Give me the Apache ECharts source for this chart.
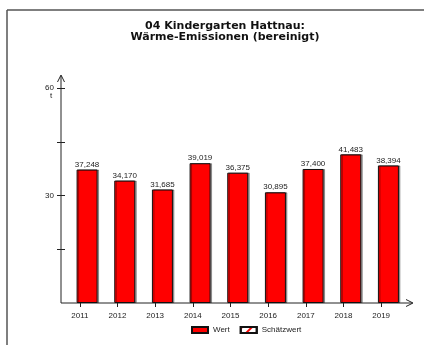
<!DOCTYPE html>
<html>
<head>
<meta charset="utf-8">
<script src="https://cdn.jsdelivr.net/npm/echarts@6/dist/echarts.min.js"></script>
<style>
  html, body { margin: 0; padding: 0; background: #fff; overflow: hidden; }
  #main { width: 424px; height: 345px; }
</style>
</head>
<body>
<div id="main"></div>
<script>
var years = ['2011', '2012', '2013', '2014', '2015', '2016', '2017', '2018', '2019'];
var wert = [37.248, 34.170, 31.685, 39.019, 36.375, 30.895, 37.400, 41.483, 38.394];
var schaetzwert = [];
var yTickLabels = ['30', '60'];
var yTicks = [15, 30, 45, 60];

var chart = echarts.init(document.getElementById('main'));
var font = 'Liberation Sans, Arial, sans-serif';

// Achsen mit Pfeil werden per graphic gezeichnet
var ox = 61, oy = 303;

chart.setOption({
  animation: false,
  textStyle: { fontFamily: font },
  title: {
    text: '04 Kindergarten Hattnau:\nWärme-Emissionen (bereinigt)',
    left: 220,
    top: 16,
    textAlign: 'center',
    textStyle: { fontSize: 11, fontWeight: 'bold', color: '#111', lineHeight: 11, fontFamily: 'DejaVu Sans, sans-serif' }
  },
  legend: {
    left: 186,
    top: 321,
    itemWidth: 16,
    itemHeight: 6,
    itemGap: 10,
    textStyle: { fontSize: 8, color: '#222', fontFamily: font },
    data: [
      { name: 'Wert', icon: 'rect' },
      { name: 'Schätzwert', icon: 'rect' }
    ]
  },
  grid: { left: ox, right: 24, top: 88, bottom: 345 - oy },
  xAxis: {
    type: 'category',
    data: years,
    axisLine: { show: false },
    axisTick: { show: true, alignWithLabel: true, length: 4, lineStyle: { color: '#222' } },
    axisLabel: { fontSize: 8, color: '#222', margin: 9 }
  },
  yAxis: [
    {
      type: 'value',
      min: 0,
      max: 60,
      interval: 15,
      axisLine: { show: false },
      axisTick: { show: true, length: 4, customValues: yTicks, lineStyle: { color: '#222' } },
      splitLine: { show: false },
      axisLabel: {
        fontSize: 8, color: '#222', margin: 7,
        formatter: function (v) { return yTickLabels.indexOf(String(v)) >= 0 ? String(v) : ''; }
      }
    },
    {
      type: 'value',
      position: 'left',
      min: 0,
      max: 60,
      interval: 15,
      axisLine: { show: false },
      axisTick: { show: true, inside: true, length: 4, customValues: yTicks, lineStyle: { color: '#222' } },
      splitLine: { show: false },
      axisLabel: { show: false }
    }
  ],
  series: [
    {
      name: 'Wert',
      type: 'bar',
      barWidth: 21,
      data: wert,
      itemStyle: {
        color: '#ff0000',
        borderColor: '#111',
        borderWidth: 1,
        shadowColor: 'rgba(0,0,0,0.35)',
        shadowOffsetX: 1.5,
        shadowOffsetY: 0
      },
      label: {
        show: true,
        position: 'top',
        distance: 1,
        fontSize: 8,
        color: '#222',
        formatter: function (p) { return p.value.toFixed(3).replace('.', ','); }
      }
    },
    {
      name: 'Schätzwert',
      type: 'bar',
      barGap: '-100%',
      data: schaetzwert,
      itemStyle: {
        color: '#ffffff',
        borderColor: '#111',
        borderWidth: 1,
        decal: { symbol: 'rect', color: '#ff0000', dashArrayX: [1, 0], dashArrayY: [2, 5], rotation: -Math.PI / 4 }
      }
    }
  ],
  graphic: [
    // Rahmen oben und links
    { type: 'line', shape: { x1: 7, y1: 10, x2: 424, y2: 10 }, style: { stroke: '#555', lineWidth: 1.5 } },
    { type: 'line', shape: { x1: 7, y1: 10, x2: 7, y2: 345 }, style: { stroke: '#555', lineWidth: 1.5 } },
    // y-Achse mit Pfeil
    { type: 'line', shape: { x1: ox, y1: oy, x2: ox, y2: 76 }, style: { stroke: '#222', lineWidth: 1 } },
    { type: 'polyline', shape: { points: [[ox - 3.5, 82], [ox, 75], [ox + 3.5, 82]] }, style: { fill: 'none', stroke: '#222', lineWidth: 1 } },
    // x-Achse mit Pfeil
    { type: 'line', shape: { x1: ox, y1: oy, x2: 412, y2: oy }, style: { stroke: '#222', lineWidth: 1 } },
    { type: 'polyline', shape: { points: [[406, oy - 3.5], [413, oy], [406, oy + 3.5]] }, style: { fill: 'none', stroke: '#222', lineWidth: 1 } },
    // Einheit
    { type: 'text', left: 50, top: 92, style: { text: 't', fontSize: 8, fill: '#222', fontFamily: font } }
  ]
});
</script>
</body>
</html>
